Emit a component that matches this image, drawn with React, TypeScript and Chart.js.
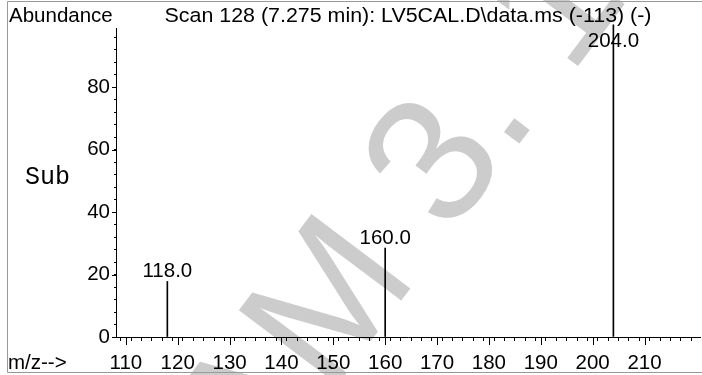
import React, { useEffect, useRef } from "react";
import { Chart, registerables } from "chart.js";

Chart.register(...registerables);

// ---- data ----
const mzValues = [118, 160, 204];
const abundances = [17.8, 28.5, 100];
const xMin = 108.1;
const xMax = 220.7;
const yMin = 0;
const yMax = 99;
const xLabeledTicks = [110, 120, 130, 140, 150, 160, 170, 180, 190, 200, 210];
const yLabeledTicks = [0, 20, 40, 60, 80];
const xMinorStep = 2;
const yMinorStep = 4;
const titleText = "Scan 128 (7.275 min): LV5CAL.D\\data.ms (-113) (-)";
const yAxisTitle = "Abundance";
const xAxisTitle = "m/z-->";
const sideLabel = "Sub";
const watermarkText = "AM 3. 1C";

const FONT_FAMILY = '"Liberation Sans", Arial, Helvetica, sans-serif';
const FONT_SIZE = 20.5;

const decorPlugin = {
  id: "msDecor",
  beforeDraw(chart: any) {
    const ctx: CanvasRenderingContext2D = chart.ctx;
    ctx.save();
    ctx.fillStyle = "#cccccc";
    const wmSize = 180;
    ctx.font = `${wmSize}px ${FONT_FAMILY}`;
    const w1 = ctx.measureText("AM ").width;
    const w3 = ctx.measureText("3").width;
    ctx.translate(428, 158);
    ctx.rotate((-53 * Math.PI) / 180);
    ctx.textBaseline = "alphabetic";
    ctx.textAlign = "left";
    ctx.fillText(watermarkText, -(w1 + w3 / 2), 0.358 * wmSize);
    ctx.restore();

    ctx.save();
    ctx.strokeStyle = "#999999";
    ctx.lineWidth = 1;
    ctx.beginPath();
    ctx.moveTo(7.5, 1.5);
    ctx.lineTo(702, 1.5);
    ctx.moveTo(7.5, 1.5);
    ctx.lineTo(7.5, 372.5);
    ctx.lineTo(702, 372.5);
    ctx.stroke();
    ctx.restore();
  },
  afterDraw(chart: any) {
    const ctx: CanvasRenderingContext2D = chart.ctx;
    const area = chart.chartArea;
    const xs = chart.scales.x;
    const ys = chart.scales.y;
    ctx.save();
    ctx.strokeStyle = "#000000";
    ctx.lineWidth = 1;
    ctx.beginPath();
    xLabeledTicks.forEach((v) => {
      const px = Math.round(xs.getPixelForValue(v)) + 0.5;
      ctx.moveTo(px, area.bottom);
      ctx.lineTo(px, area.bottom + 8);
    });
    yLabeledTicks.forEach((v) => {
      const py = Math.round(ys.getPixelForValue(v)) + 0.5;
      ctx.moveTo(area.left - 4, py);
      ctx.lineTo(area.left, py);
    });
    ctx.stroke();

    ctx.fillStyle = "#000000";
    ctx.font = `${FONT_SIZE}px ${FONT_FAMILY}`;
    ctx.textBaseline = "alphabetic";
    ctx.textAlign = "left";
    ctx.fillText(yAxisTitle, 9, 22);
    ctx.fillText(xAxisTitle, 8, 368.5);

    const tw = ctx.measureText(titleText).width;
    const sx = 487 / tw;
    ctx.save();
    ctx.translate((area.left + area.right) / 2, 22);
    ctx.scale(sx, 1);
    ctx.textAlign = "center";
    ctx.fillText(titleText, 0, 0);
    ctx.restore();

    ctx.textAlign = "left";
    ctx.font = `25px "Liberation Mono", "Courier New", monospace`;
    ctx.fillText(sideLabel, 25, 184);

    const meta = chart.getDatasetMeta(0);
    ctx.font = `${FONT_SIZE}px ${FONT_FAMILY}`;
    ctx.textAlign = "center";
    meta.data.forEach((el: any, i: number) => {
      const baseline = Math.max(el.y - 4.5, area.top + 18.7);
      ctx.fillText(mzValues[i].toFixed(1), el.x, baseline);
    });
    ctx.restore();
  },
};

const isIn = (list: number[], v: number) => list.some((t) => Math.abs(t - v) < 1e-6);

export default function App() {
  const canvasRef = useRef<HTMLCanvasElement | null>(null);

  useEffect(() => {
    document.body.style.margin = "0";
    const canvas = canvasRef.current;
    if (!canvas) return;
    const chart = new Chart(canvas, {
      type: "bar",
      data: {
        datasets: [
          {
            data: mzValues.map((mz, i) => ({ x: mz, y: abundances[i] })),
            backgroundColor: "#000000",
            borderWidth: 0,
            barThickness: 1,
            clip: false as any,
          },
        ],
      },
      options: {
        responsive: false,
        animation: false,
        devicePixelRatio: 1,
        layout: { padding: { top: 28, right: 2, left: 0, bottom: 0 } },
        plugins: {
          legend: { display: false },
          tooltip: { enabled: false },
          title: { display: false },
        },
        scales: {
          x: {
            type: "linear",
            min: xMin,
            max: xMax,
            offset: false,
            border: { display: true, color: "#000000", width: 1 },
            grid: {
              display: true,
              drawOnChartArea: false,
              drawTicks: true,
              tickLength: 4,
              tickColor: "#000000",
              color: "#000000",
            },
            ticks: {
              stepSize: xMinorStep,
              includeBounds: false,
              autoSkip: false,
              maxRotation: 0,
              minRotation: 0,
              padding: 10,
              color: "#000000",
              font: { family: FONT_FAMILY, size: FONT_SIZE },
              callback: (v: any) => (isIn(xLabeledTicks, Number(v)) ? String(Math.round(Number(v))) : ""),
            },
            afterFit: (scale: any) => {
              scale.height = 38;
              scale.paddingRight = 0;
              scale.paddingLeft = 0;
            },
          } as any,
          y: {
            type: "linear",
            min: yMin,
            max: yMax,
            border: { display: true, color: "#000000", width: 1 },
            grid: {
              display: true,
              drawOnChartArea: false,
              drawTicks: true,
              tickLength: 2,
              tickColor: "#000000",
              color: "#000000",
            },
            ticks: {
              stepSize: yMinorStep,
              includeBounds: false,
              autoSkip: false,
              padding: 4,
              color: "#000000",
              font: { family: FONT_FAMILY, size: FONT_SIZE },
              callback: (v: any) => (isIn(yLabeledTicks, Number(v)) ? String(Math.round(Number(v))) : ""),
            },
            afterFit: (scale: any) => {
              scale.width = 116;
            },
          } as any,
        },
      },
      plugins: [decorPlugin],
    });
    return () => chart.destroy();
  }, []);

  return (
    <div style={{ position: "fixed", left: 0, top: 0, width: 702, height: 375, background: "#ffffff" }}>
      <canvas ref={canvasRef} width={702} height={375} style={{ width: 702, height: 375, display: "block" }} />
    </div>
  );
}
